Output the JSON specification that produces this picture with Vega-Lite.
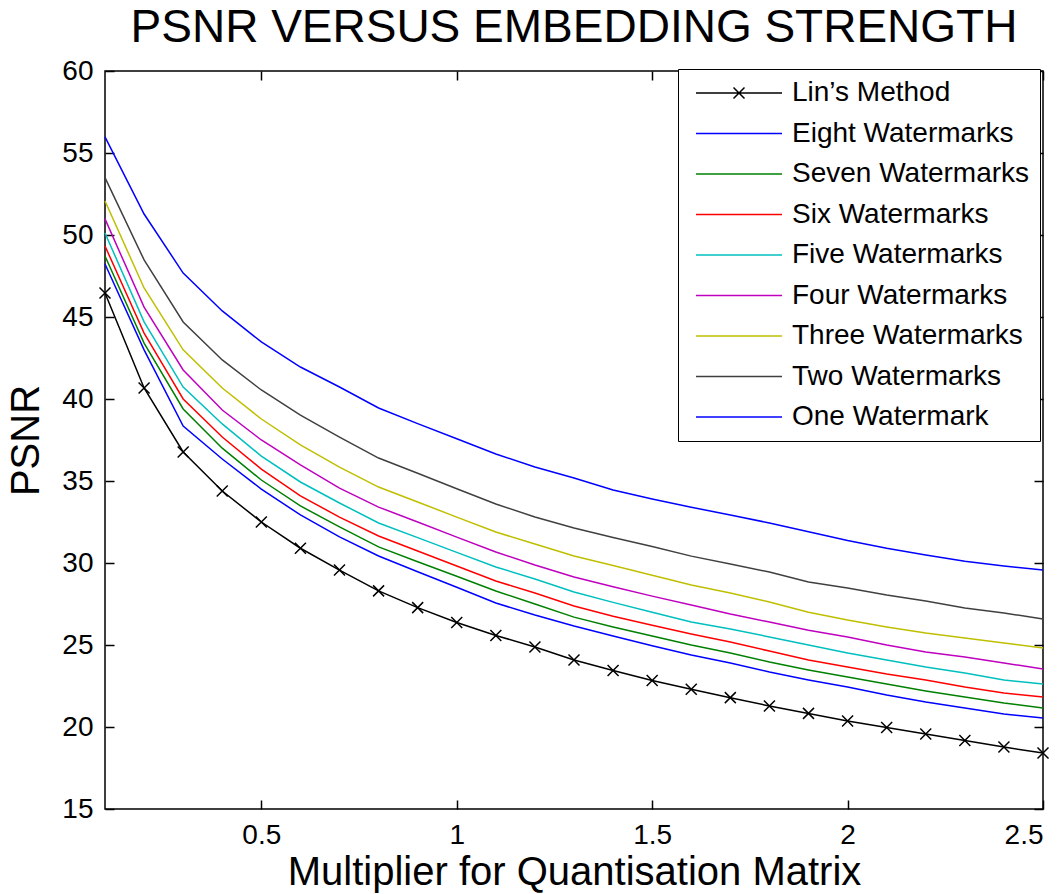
{
"$schema": "https://vega.github.io/schema/vega-lite/v6.json",
"width": 938, "height": 738,
"autosize": {"type": "none"},
"padding": {"left": 105, "top": 71, "right": 21, "bottom": 85},
"background": "white",
"config": {
  "font": "Liberation Sans",
  "view": {"stroke": "black", "strokeWidth": 1.5},
  "axis": {"grid": false, "domain": false, "tickColor": "black", "tickWidth": 1.5, "tickSize": -9, "labelColor": "black", "labelFont": "Liberation Sans", "labelFontSize": 28, "titleFont": "Liberation Sans", "titleFontSize": 40, "titleFontWeight": "normal", "titleColor": "black"}
},
"title": {"text": "PSNR VERSUS EMBEDDING STRENGTH", "fontSize": 46, "fontWeight": "normal", "font": "Liberation Sans", "color": "black", "offset": 5, "anchor": "middle"},
"data": {"values": [
{"s":"Lin’s Method","m":0.1,"p":46.46},{"s":"Lin’s Method","m":0.2,"p":40.67},{"s":"Lin’s Method","m":0.3,"p":36.77},{"s":"Lin’s Method","m":0.4,"p":34.39},{"s":"Lin’s Method","m":0.5,"p":32.5},{"s":"Lin’s Method","m":0.6,"p":30.9},{"s":"Lin’s Method","m":0.7,"p":29.57},{"s":"Lin’s Method","m":0.8,"p":28.3},{"s":"Lin’s Method","m":0.9,"p":27.28},{"s":"Lin’s Method","m":1.0,"p":26.37},{"s":"Lin’s Method","m":1.1,"p":25.58},{"s":"Lin’s Method","m":1.2,"p":24.88},{"s":"Lin’s Method","m":1.3,"p":24.09},{"s":"Lin’s Method","m":1.4,"p":23.45},{"s":"Lin’s Method","m":1.5,"p":22.83},{"s":"Lin’s Method","m":1.6,"p":22.3},{"s":"Lin’s Method","m":1.7,"p":21.79},{"s":"Lin’s Method","m":1.8,"p":21.28},{"s":"Lin’s Method","m":1.9,"p":20.83},{"s":"Lin’s Method","m":2.0,"p":20.37},{"s":"Lin’s Method","m":2.1,"p":19.97},{"s":"Lin’s Method","m":2.2,"p":19.57},{"s":"Lin’s Method","m":2.3,"p":19.18},{"s":"Lin’s Method","m":2.4,"p":18.78},{"s":"Lin’s Method","m":2.5,"p":18.41},
{"s":"Eight Watermarks","m":0.1,"p":55.98},{"s":"Eight Watermarks","m":0.2,"p":51.28},{"s":"Eight Watermarks","m":0.3,"p":47.68},{"s":"Eight Watermarks","m":0.4,"p":45.37},{"s":"Eight Watermarks","m":0.5,"p":43.48},{"s":"Eight Watermarks","m":0.6,"p":41.95},{"s":"Eight Watermarks","m":0.7,"p":40.73},{"s":"Eight Watermarks","m":0.8,"p":39.45},{"s":"Eight Watermarks","m":0.9,"p":38.5},{"s":"Eight Watermarks","m":1.0,"p":37.58},{"s":"Eight Watermarks","m":1.1,"p":36.65},{"s":"Eight Watermarks","m":1.2,"p":35.85},{"s":"Eight Watermarks","m":1.3,"p":35.18},{"s":"Eight Watermarks","m":1.4,"p":34.45},{"s":"Eight Watermarks","m":1.5,"p":33.9},{"s":"Eight Watermarks","m":1.6,"p":33.4},{"s":"Eight Watermarks","m":1.7,"p":32.93},{"s":"Eight Watermarks","m":1.8,"p":32.44},{"s":"Eight Watermarks","m":1.9,"p":31.9},{"s":"Eight Watermarks","m":2.0,"p":31.37},{"s":"Eight Watermarks","m":2.1,"p":30.9},{"s":"Eight Watermarks","m":2.2,"p":30.49},{"s":"Eight Watermarks","m":2.3,"p":30.1},{"s":"Eight Watermarks","m":2.4,"p":29.82},{"s":"Eight Watermarks","m":2.5,"p":29.57},
{"s":"Seven Watermarks","m":0.1,"p":48.72},{"s":"Seven Watermarks","m":0.2,"p":43.41},{"s":"Seven Watermarks","m":0.3,"p":39.39},{"s":"Seven Watermarks","m":0.4,"p":37.0},{"s":"Seven Watermarks","m":0.5,"p":35.06},{"s":"Seven Watermarks","m":0.6,"p":33.48},{"s":"Seven Watermarks","m":0.7,"p":32.2},{"s":"Seven Watermarks","m":0.8,"p":30.98},{"s":"Seven Watermarks","m":0.9,"p":30.08},{"s":"Seven Watermarks","m":1.0,"p":29.19},{"s":"Seven Watermarks","m":1.1,"p":28.29},{"s":"Seven Watermarks","m":1.2,"p":27.5},{"s":"Seven Watermarks","m":1.3,"p":26.7},{"s":"Seven Watermarks","m":1.4,"p":26.1},{"s":"Seven Watermarks","m":1.5,"p":25.55},{"s":"Seven Watermarks","m":1.6,"p":25.0},{"s":"Seven Watermarks","m":1.7,"p":24.51},{"s":"Seven Watermarks","m":1.8,"p":23.96},{"s":"Seven Watermarks","m":1.9,"p":23.48},{"s":"Seven Watermarks","m":2.0,"p":23.05},{"s":"Seven Watermarks","m":2.1,"p":22.62},{"s":"Seven Watermarks","m":2.2,"p":22.2},{"s":"Seven Watermarks","m":2.3,"p":21.83},{"s":"Seven Watermarks","m":2.4,"p":21.46},{"s":"Seven Watermarks","m":2.5,"p":21.16},
{"s":"Six Watermarks","m":0.1,"p":49.33},{"s":"Six Watermarks","m":0.2,"p":44.02},{"s":"Six Watermarks","m":0.3,"p":40.0},{"s":"Six Watermarks","m":0.4,"p":37.68},{"s":"Six Watermarks","m":0.5,"p":35.73},{"s":"Six Watermarks","m":0.6,"p":34.09},{"s":"Six Watermarks","m":0.7,"p":32.8},{"s":"Six Watermarks","m":0.8,"p":31.65},{"s":"Six Watermarks","m":0.9,"p":30.73},{"s":"Six Watermarks","m":1.0,"p":29.82},{"s":"Six Watermarks","m":1.1,"p":28.9},{"s":"Six Watermarks","m":1.2,"p":28.17},{"s":"Six Watermarks","m":1.3,"p":27.38},{"s":"Six Watermarks","m":1.4,"p":26.75},{"s":"Six Watermarks","m":1.5,"p":26.2},{"s":"Six Watermarks","m":1.6,"p":25.67},{"s":"Six Watermarks","m":1.7,"p":25.18},{"s":"Six Watermarks","m":1.8,"p":24.63},{"s":"Six Watermarks","m":1.9,"p":24.09},{"s":"Six Watermarks","m":2.0,"p":23.66},{"s":"Six Watermarks","m":2.1,"p":23.23},{"s":"Six Watermarks","m":2.2,"p":22.87},{"s":"Six Watermarks","m":2.3,"p":22.44},{"s":"Six Watermarks","m":2.4,"p":22.07},{"s":"Six Watermarks","m":2.5,"p":21.83},
{"s":"Five Watermarks","m":0.1,"p":50.12},{"s":"Five Watermarks","m":0.2,"p":44.7},{"s":"Five Watermarks","m":0.3,"p":40.73},{"s":"Five Watermarks","m":0.4,"p":38.48},{"s":"Five Watermarks","m":0.5,"p":36.52},{"s":"Five Watermarks","m":0.6,"p":34.94},{"s":"Five Watermarks","m":0.7,"p":33.66},{"s":"Five Watermarks","m":0.8,"p":32.44},{"s":"Five Watermarks","m":0.9,"p":31.55},{"s":"Five Watermarks","m":1.0,"p":30.65},{"s":"Five Watermarks","m":1.1,"p":29.76},{"s":"Five Watermarks","m":1.2,"p":29.02},{"s":"Five Watermarks","m":1.3,"p":28.23},{"s":"Five Watermarks","m":1.4,"p":27.6},{"s":"Five Watermarks","m":1.5,"p":27.0},{"s":"Five Watermarks","m":1.6,"p":26.4},{"s":"Five Watermarks","m":1.7,"p":25.98},{"s":"Five Watermarks","m":1.8,"p":25.49},{"s":"Five Watermarks","m":1.9,"p":25.0},{"s":"Five Watermarks","m":2.0,"p":24.51},{"s":"Five Watermarks","m":2.1,"p":24.09},{"s":"Five Watermarks","m":2.2,"p":23.66},{"s":"Five Watermarks","m":2.3,"p":23.29},{"s":"Five Watermarks","m":2.4,"p":22.87},{"s":"Five Watermarks","m":2.5,"p":22.62},
{"s":"Four Watermarks","m":0.1,"p":50.98},{"s":"Four Watermarks","m":0.2,"p":45.6},{"s":"Four Watermarks","m":0.3,"p":41.77},{"s":"Four Watermarks","m":0.4,"p":39.33},{"s":"Four Watermarks","m":0.5,"p":37.5},{"s":"Four Watermarks","m":0.6,"p":35.98},{"s":"Four Watermarks","m":0.7,"p":34.57},{"s":"Four Watermarks","m":0.8,"p":33.41},{"s":"Four Watermarks","m":0.9,"p":32.5},{"s":"Four Watermarks","m":1.0,"p":31.58},{"s":"Four Watermarks","m":1.1,"p":30.67},{"s":"Four Watermarks","m":1.2,"p":29.88},{"s":"Four Watermarks","m":1.3,"p":29.15},{"s":"Four Watermarks","m":1.4,"p":28.55},{"s":"Four Watermarks","m":1.5,"p":27.98},{"s":"Four Watermarks","m":1.6,"p":27.44},{"s":"Four Watermarks","m":1.7,"p":26.89},{"s":"Four Watermarks","m":1.8,"p":26.4},{"s":"Four Watermarks","m":1.9,"p":25.9},{"s":"Four Watermarks","m":2.0,"p":25.49},{"s":"Four Watermarks","m":2.1,"p":25.0},{"s":"Four Watermarks","m":2.2,"p":24.57},{"s":"Four Watermarks","m":2.3,"p":24.27},{"s":"Four Watermarks","m":2.4,"p":23.9},{"s":"Four Watermarks","m":2.5,"p":23.54},
{"s":"Three Watermarks","m":0.1,"p":52.07},{"s":"Three Watermarks","m":0.2,"p":46.77},{"s":"Three Watermarks","m":0.3,"p":43.0},{"s":"Three Watermarks","m":0.4,"p":40.67},{"s":"Three Watermarks","m":0.5,"p":38.78},{"s":"Three Watermarks","m":0.6,"p":37.2},{"s":"Three Watermarks","m":0.7,"p":35.85},{"s":"Three Watermarks","m":0.8,"p":34.63},{"s":"Three Watermarks","m":0.9,"p":33.72},{"s":"Three Watermarks","m":1.0,"p":32.8},{"s":"Three Watermarks","m":1.1,"p":31.89},{"s":"Three Watermarks","m":1.2,"p":31.16},{"s":"Three Watermarks","m":1.3,"p":30.43},{"s":"Three Watermarks","m":1.4,"p":29.85},{"s":"Three Watermarks","m":1.5,"p":29.25},{"s":"Three Watermarks","m":1.6,"p":28.66},{"s":"Three Watermarks","m":1.7,"p":28.17},{"s":"Three Watermarks","m":1.8,"p":27.62},{"s":"Three Watermarks","m":1.9,"p":27.0},{"s":"Three Watermarks","m":2.0,"p":26.52},{"s":"Three Watermarks","m":2.1,"p":26.1},{"s":"Three Watermarks","m":2.2,"p":25.73},{"s":"Three Watermarks","m":2.3,"p":25.43},{"s":"Three Watermarks","m":2.4,"p":25.12},{"s":"Three Watermarks","m":2.5,"p":24.82},
{"s":"Two Watermarks","m":0.1,"p":53.5},{"s":"Two Watermarks","m":0.2,"p":48.48},{"s":"Two Watermarks","m":0.3,"p":44.7},{"s":"Two Watermarks","m":0.4,"p":42.38},{"s":"Two Watermarks","m":0.5,"p":40.55},{"s":"Two Watermarks","m":0.6,"p":39.02},{"s":"Two Watermarks","m":0.7,"p":37.68},{"s":"Two Watermarks","m":0.8,"p":36.4},{"s":"Two Watermarks","m":0.9,"p":35.47},{"s":"Two Watermarks","m":1.0,"p":34.53},{"s":"Two Watermarks","m":1.1,"p":33.6},{"s":"Two Watermarks","m":1.2,"p":32.8},{"s":"Two Watermarks","m":1.3,"p":32.13},{"s":"Two Watermarks","m":1.4,"p":31.55},{"s":"Two Watermarks","m":1.5,"p":31.0},{"s":"Two Watermarks","m":1.6,"p":30.42},{"s":"Two Watermarks","m":1.7,"p":29.94},{"s":"Two Watermarks","m":1.8,"p":29.45},{"s":"Two Watermarks","m":1.9,"p":28.84},{"s":"Two Watermarks","m":2.0,"p":28.48},{"s":"Two Watermarks","m":2.1,"p":28.05},{"s":"Two Watermarks","m":2.2,"p":27.68},{"s":"Two Watermarks","m":2.3,"p":27.26},{"s":"Two Watermarks","m":2.4,"p":26.95},{"s":"Two Watermarks","m":2.5,"p":26.59},
{"s":"One Watermark","m":0.1,"p":48.23},{"s":"One Watermark","m":0.2,"p":43.0},{"s":"One Watermark","m":0.3,"p":38.35},{"s":"One Watermark","m":0.4,"p":36.34},{"s":"One Watermark","m":0.5,"p":34.51},{"s":"One Watermark","m":0.6,"p":32.93},{"s":"One Watermark","m":0.7,"p":31.59},{"s":"One Watermark","m":0.8,"p":30.43},{"s":"One Watermark","m":0.9,"p":29.47},{"s":"One Watermark","m":1.0,"p":28.52},{"s":"One Watermark","m":1.1,"p":27.56},{"s":"One Watermark","m":1.2,"p":26.83},{"s":"One Watermark","m":1.3,"p":26.16},{"s":"One Watermark","m":1.4,"p":25.55},{"s":"One Watermark","m":1.5,"p":24.95},{"s":"One Watermark","m":1.6,"p":24.39},{"s":"One Watermark","m":1.7,"p":23.9},{"s":"One Watermark","m":1.8,"p":23.35},{"s":"One Watermark","m":1.9,"p":22.87},{"s":"One Watermark","m":2.0,"p":22.44},{"s":"One Watermark","m":2.1,"p":21.95},{"s":"One Watermark","m":2.2,"p":21.52},{"s":"One Watermark","m":2.3,"p":21.16},{"s":"One Watermark","m":2.4,"p":20.79},{"s":"One Watermark","m":2.5,"p":20.55}
]},
"layer": [
  {
    "mark": {"type": "line", "strokeWidth": 1.5},
    "encoding": {
      "x": {"field": "m", "type": "quantitative", "scale": {"domain": [0.1, 2.5], "nice": false, "zero": false},
            "axis": {"orient": "bottom", "values": [0.5, 1, 1.5, 2, 2.5], "format": "~g", "title": "Multiplier for Quantisation Matrix", "labelPadding": 21, "titlePadding": 3}},
      "y": {"field": "p", "type": "quantitative", "scale": {"domain": [15, 60], "nice": false, "zero": false},
            "axis": {"orient": "left", "values": [15, 20, 25, 30, 35, 40, 45, 50, 55, 60], "title": "PSNR", "labelPadding": 21, "titlePadding": 15}},
      "color": {"field": "s", "type": "nominal",
        "scale": {"domain": ["Lin’s Method", "Eight Watermarks", "Seven Watermarks", "Six Watermarks", "Five Watermarks", "Four Watermarks", "Three Watermarks", "Two Watermarks", "One Watermark"],
                  "range": ["#000000", "#0000FF", "#008000", "#FF0000", "#00BFBF", "#BF00BF", "#BFBF00", "#404040", "#0000FF"]},
        "legend": {"title": null, "orient": "none", "legendX": 573, "legendY": -2, "strokeColor": "black", "fillColor": "white", "padding": 10,
                   "labelFontSize": 28, "labelFont": "Liberation Sans", "labelColor": "black", "labelLimit": 0,
                   "symbolSize": 400, "symbolStrokeWidth": 1.5, "symbolOffset": 37, "labelOffset": 39, "rowPadding": 12.5,
                   "symbolType": "M-4.3,0H4.3",
                   "encode": {"symbols": {"update": {"shape": {"signal": "datum.value === 'Lin’s Method' ? 'M-4.3,0H4.3M-0.55,-0.55L0.55,0.55M-0.55,0.55L0.55,-0.55' : 'M-4.3,0H4.3'"}}}}}}
    }
  },
  {
    "transform": [{"filter": "datum.s === 'Lin’s Method'"}],
    "mark": {"type": "point", "shape": "M-1,-1L1,1M-1,1L1,-1", "size": 121, "filled": false, "stroke": "black", "strokeWidth": 1.5, "opacity": 1},
    "encoding": {
      "x": {"field": "m", "type": "quantitative", "axis": {"orient": "top", "labels": false, "title": null, "values": [0.5, 1, 1.5, 2, 2.5]}},
      "y": {"field": "p", "type": "quantitative", "axis": {"orient": "right", "labels": false, "title": null, "values": [15, 20, 25, 30, 35, 40, 45, 50, 55, 60]}}
    }
  }
],
"resolve": {"axis": {"x": "independent", "y": "independent"}}
}
